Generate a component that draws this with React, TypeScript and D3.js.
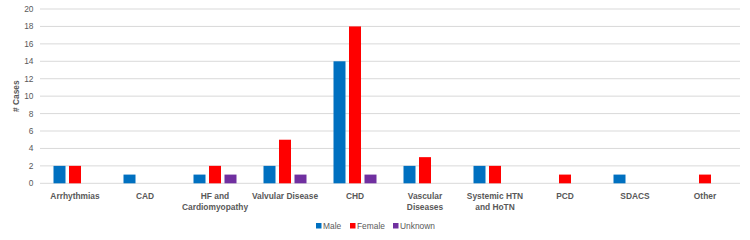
import React from "react";
import * as d3 from "d3";

const categories = [
  "Arrhythmias",
  "CAD",
  "HF and\nCardiomyopathy",
  "Valvular Disease",
  "CHD",
  "Vascular\nDiseases",
  "Systemic HTN\nand HoTN",
  "PCD",
  "SDACS",
  "Other",
];
const seriesNames = ["Male", "Female", "Unknown"];
const male = [2, 1, 1, 2, 14, 2, 2, 0, 1, 0];
const female = [2, 0, 2, 5, 18, 3, 2, 1, 0, 1];
const unknown = [0, 0, 1, 1, 1, 0, 0, 0, 0, 0];
const yTicks = [0, 2, 4, 6, 8, 10, 12, 14, 16, 18, 20];
const colors = ["#0070C0", "#FF0000", "#7030A0"];

export default function App() {
  const W = 750, H = 240;
  const left = 40, right = 740, top = 9, bottom = 183.3;
  const values = [male, female, unknown];
  const x0 = d3.scaleBand<string>().domain(categories).range([left, right]);
  const x1 = d3
    .scaleBand<string>()
    .domain(seriesNames)
    .range([11.75, 58.25])
    .paddingInner(0.226)
    .paddingOuter(0.113);
  const y = d3.scaleLinear().domain([0, 20]).range([bottom, top]);
  const font = "'Liberation Sans', Arial, sans-serif";
  const gray = "#595959";
  const fs = 8.4;

  const legendItems = [
    { name: "Male", x: 316 },
    { name: "Female", x: 350 },
    { name: "Unknown", x: 393 },
  ];

  return (
    <svg width={W} height={H} style={{ position: "absolute", left: 0, top: 0 }} fontFamily={font}>
      <rect width={W} height={H} fill="#fff" />
      {yTicks.map((t) => (
        <g key={t}>
          <line x1={left} x2={right} y1={y(t)} y2={y(t)} stroke="#d9d9d9" strokeWidth={1} />
          <text x={33.5} y={y(t)} dy="0.35em" textAnchor="end" fontSize={fs} fill={gray}>
            {t}
          </text>
        </g>
      ))}
      {categories.map((c, i) => (
        <g key={c}>
          {seriesNames.map((s, j) => {
            const v = values[j][i];
            if (!v) return null;
            return (
              <rect
                key={s}
                x={(x0(c) ?? 0) + (x1(s) ?? 0)}
                y={y(v)}
                width={x1.bandwidth()}
                height={y(0) - y(v)}
                fill={colors[j]}
              />
            );
          })}
          {c.split("\n").map((line, k) => (
            <text
              key={k}
              x={(x0(c) ?? 0) + x0.bandwidth() / 2}
              y={199 + k * 11.3}
              textAnchor="middle"
              fontSize={fs}
              fontWeight="bold"
              fill={gray}
            >
              {line}
            </text>
          ))}
        </g>
      ))}
      <text
        transform={`translate(19,${(top + bottom) / 2}) rotate(-90)`}
        textAnchor="middle"
        fontSize={fs}
        fontWeight="bold"
        fill={gray}
      >
        # Cases
      </text>
      {legendItems.map((it, j) => (
        <g key={it.name}>
          <rect x={it.x} y={223} width={5.5} height={5.5} fill={colors[j]} />
          <text x={it.x + 7} y={228.6} fontSize={fs} fill={gray}>
            {it.name}
          </text>
        </g>
      ))}
    </svg>
  );
}
